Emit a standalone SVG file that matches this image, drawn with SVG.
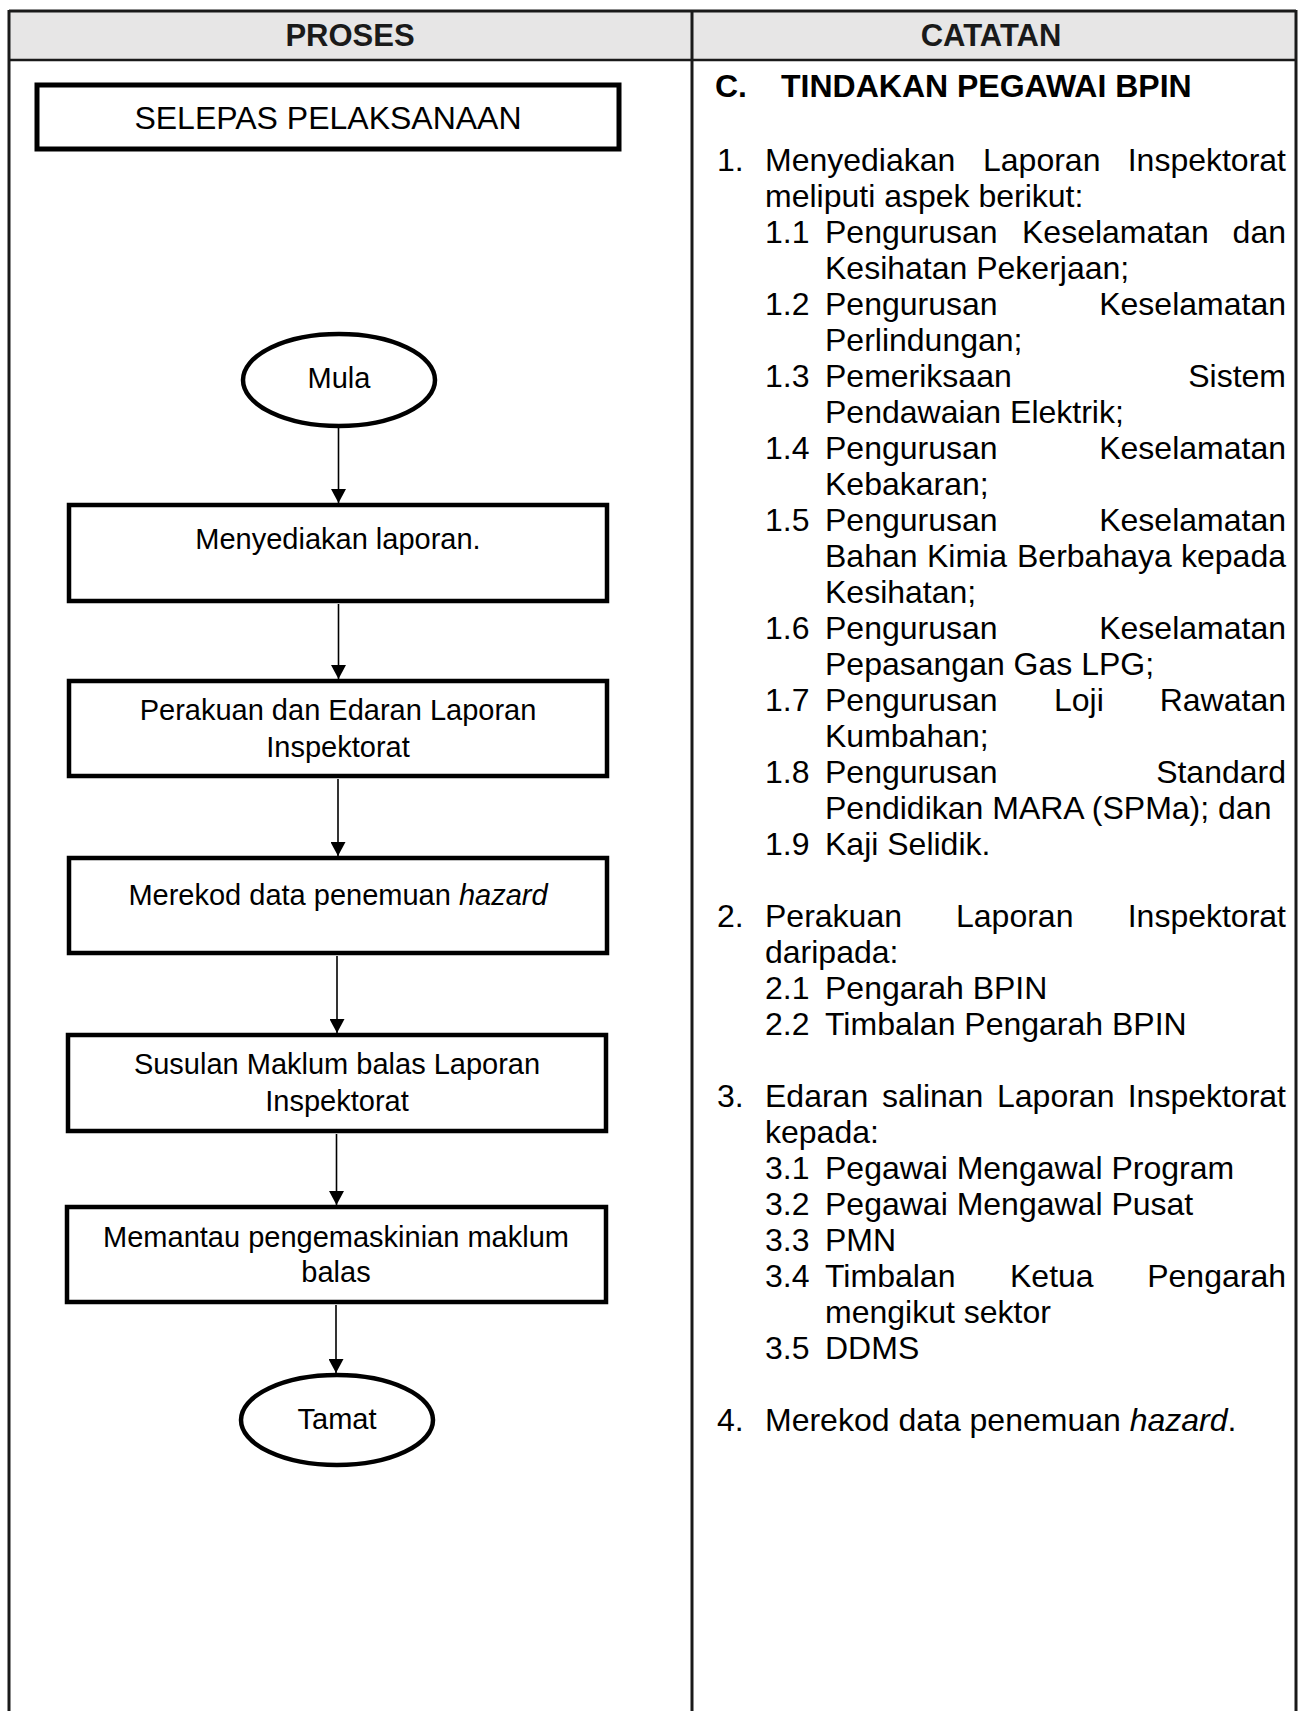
<svg xmlns="http://www.w3.org/2000/svg" width="1301" height="1711" viewBox="0 0 1301 1711">
<style>
  text { font-family: "Liberation Sans", Arial, sans-serif; fill: #000; }
  .hdr { font-size: 31px; font-weight: bold; text-anchor: middle; fill: #1a1a1a; }
  .frame { stroke: #1a1a1a; stroke-width: 3; fill: none; }
  .box { fill: #fff; stroke: #000; stroke-width: 4.5; }
  .lt { font-size: 29px; text-anchor: middle; }
  .big { font-size: 32px; text-anchor: middle; }
  .rt { font-size: 32px; }
  .e { text-anchor: end; }
  .bold { font-weight: bold; }
  .conn { stroke: #000; stroke-width: 1.6; fill: none; marker-end: url(#arr); }
</style>
<defs>
  <marker id="arr" markerWidth="15" markerHeight="15" refX="14" refY="7.5" orient="auto" markerUnits="userSpaceOnUse">
    <path d="M0,0 L14,7.5 L0,15 z" fill="#000"/>
  </marker>
</defs>
<rect width="1301" height="1711" fill="#fff"/>

<g id="table">
  <rect x="9" y="11" width="1287" height="49" fill="#e7e6e6"/>
  <line class="frame" x1="9" y1="11" x2="1296" y2="11"/>
  <line class="frame" x1="9" y1="60" x2="1296" y2="60" style="stroke-width:2.5"/>
  <line class="frame" x1="9" y1="10" x2="9" y2="1711"/>
  <line class="frame" x1="692" y1="10" x2="692" y2="1711"/>
  <line class="frame" x1="1296" y1="10" x2="1296" y2="1711"/>
  <text class="hdr" x="350" y="46">PROSES</text>
  <text class="hdr" x="991" y="46">CATATAN</text>
</g>

<g id="n-selepas">
  <rect class="box" x="37" y="85" width="582" height="64" style="stroke-width:5"/>
  <text class="big" x="328" y="129">SELEPAS PELAKSANAAN</text>
</g>

<g id="n-mula">
  <ellipse class="box" cx="339" cy="380" rx="96" ry="46"/>
  <text class="lt" x="339" y="388">Mula</text>
</g>

<g id="n-menyediakan">
  <rect class="box" x="69" y="505" width="538" height="96"/>
  <text class="lt" x="338" y="549">Menyediakan laporan.</text>
</g>

<g id="n-perakuan">
  <rect class="box" x="69" y="681" width="538" height="95"/>
  <text class="lt" x="338" y="720">Perakuan dan Edaran Laporan</text>
  <text class="lt" x="338" y="757">Inspektorat</text>
</g>

<g id="n-merekod">
  <rect class="box" x="69" y="858" width="538" height="95"/>
  <text class="lt" x="338" y="905">Merekod data penemuan <tspan font-style="italic">hazard</tspan></text>
</g>

<g id="n-susulan">
  <rect class="box" x="68" y="1035" width="538" height="96"/>
  <text class="lt" x="337" y="1074">Susulan Maklum balas Laporan</text>
  <text class="lt" x="337" y="1111">Inspektorat</text>
</g>

<g id="n-memantau">
  <rect class="box" x="67" y="1207" width="539" height="95"/>
  <text class="lt" x="336" y="1247">Memantau pengemaskinian maklum</text>
  <text class="lt" x="336" y="1282">balas</text>
</g>

<g id="n-tamat">
  <ellipse class="box" cx="337" cy="1420" rx="96" ry="45"/>
  <text class="lt" x="337" y="1429">Tamat</text>
</g>

<g id="connectors">
  <line class="conn" x1="338.5" y1="428" x2="338.5" y2="503"/>
  <line class="conn" x1="338.5" y1="604" x2="338.5" y2="679"/>
  <line class="conn" x1="338" y1="779" x2="338" y2="856"/>
  <line class="conn" x1="337" y1="956" x2="337" y2="1033"/>
  <line class="conn" x1="336.5" y1="1134" x2="336.5" y2="1205"/>
  <line class="conn" x1="336" y1="1305" x2="336" y2="1373"/>
</g>

<g id="catatan">
  <text class="rt bold" x="715" y="97">C.</text>
  <text class="rt bold" x="781" y="97">TINDAKAN PEGAWAI BPIN</text>

  <text class="rt" x="717" y="171">1.</text>
  <text class="rt" x="765" y="171">Menyediakan</text>
  <text class="rt" x="983" y="171">Laporan</text>
  <text class="rt e" x="1286" y="171">Inspektorat</text>
  <text class="rt" x="765" y="207">meliputi aspek berikut:</text>

  <text class="rt" x="765" y="243">1.1</text>
  <text class="rt" x="825" y="243">Pengurusan</text>
  <text class="rt" x="1022" y="243">Keselamatan</text>
  <text class="rt e" x="1286" y="243">dan</text>
  <text class="rt" x="825" y="279">Kesihatan Pekerjaan;</text>

  <text class="rt" x="765" y="315">1.2</text>
  <text class="rt" x="825" y="315">Pengurusan</text>
  <text class="rt e" x="1286" y="315">Keselamatan</text>
  <text class="rt" x="825" y="351">Perlindungan;</text>

  <text class="rt" x="765" y="387">1.3</text>
  <text class="rt" x="825" y="387">Pemeriksaan</text>
  <text class="rt e" x="1286" y="387">Sistem</text>
  <text class="rt" x="825" y="423">Pendawaian Elektrik;</text>

  <text class="rt" x="765" y="459">1.4</text>
  <text class="rt" x="825" y="459">Pengurusan</text>
  <text class="rt e" x="1286" y="459">Keselamatan</text>
  <text class="rt" x="825" y="495">Kebakaran;</text>

  <text class="rt" x="765" y="531">1.5</text>
  <text class="rt" x="825" y="531">Pengurusan</text>
  <text class="rt e" x="1286" y="531">Keselamatan</text>
  <text class="rt" x="825" y="567">Bahan</text>
  <text class="rt" x="927" y="567">Kimia</text>
  <text class="rt" x="1017" y="567">Berbahaya</text>
  <text class="rt e" x="1286" y="567">kepada</text>
  <text class="rt" x="825" y="603">Kesihatan;</text>

  <text class="rt" x="765" y="639">1.6</text>
  <text class="rt" x="825" y="639">Pengurusan</text>
  <text class="rt e" x="1286" y="639">Keselamatan</text>
  <text class="rt" x="825" y="675">Pepasangan Gas LPG;</text>

  <text class="rt" x="765" y="711">1.7</text>
  <text class="rt" x="825" y="711">Pengurusan</text>
  <text class="rt" x="1054" y="711">Loji</text>
  <text class="rt e" x="1286" y="711">Rawatan</text>
  <text class="rt" x="825" y="747">Kumbahan;</text>

  <text class="rt" x="765" y="783">1.8</text>
  <text class="rt" x="825" y="783">Pengurusan</text>
  <text class="rt e" x="1286" y="783">Standard</text>
  <text class="rt" x="825" y="819">Pendidikan MARA (SPMa); dan</text>

  <text class="rt" x="765" y="855">1.9</text>
  <text class="rt" x="825" y="855">Kaji Selidik.</text>

  <text class="rt" x="717" y="927">2.</text>
  <text class="rt" x="765" y="927">Perakuan</text>
  <text class="rt" x="956" y="927">Laporan</text>
  <text class="rt e" x="1286" y="927">Inspektorat</text>
  <text class="rt" x="765" y="963">daripada:</text>
  <text class="rt" x="765" y="999">2.1</text>
  <text class="rt" x="825" y="999">Pengarah BPIN</text>
  <text class="rt" x="765" y="1035">2.2</text>
  <text class="rt" x="825" y="1035">Timbalan Pengarah BPIN</text>

  <text class="rt" x="717" y="1107">3.</text>
  <text class="rt" x="765" y="1107">Edaran</text>
  <text class="rt" x="882" y="1107">salinan</text>
  <text class="rt" x="997" y="1107">Laporan</text>
  <text class="rt e" x="1286" y="1107">Inspektorat</text>
  <text class="rt" x="765" y="1143">kepada:</text>
  <text class="rt" x="765" y="1179">3.1</text>
  <text class="rt" x="825" y="1179">Pegawai Mengawal Program</text>
  <text class="rt" x="765" y="1215">3.2</text>
  <text class="rt" x="825" y="1215">Pegawai Mengawal Pusat</text>
  <text class="rt" x="765" y="1251">3.3</text>
  <text class="rt" x="825" y="1251">PMN</text>
  <text class="rt" x="765" y="1287">3.4</text>
  <text class="rt" x="825" y="1287">Timbalan</text>
  <text class="rt" x="1010" y="1287">Ketua</text>
  <text class="rt e" x="1286" y="1287">Pengarah</text>
  <text class="rt" x="825" y="1323">mengikut sektor</text>
  <text class="rt" x="765" y="1359">3.5</text>
  <text class="rt" x="825" y="1359">DDMS</text>

  <text class="rt" x="717" y="1431">4.</text>
  <text class="rt" x="765" y="1431">Merekod data penemuan <tspan font-style="italic">hazard</tspan>.</text>
</g>
</svg>
